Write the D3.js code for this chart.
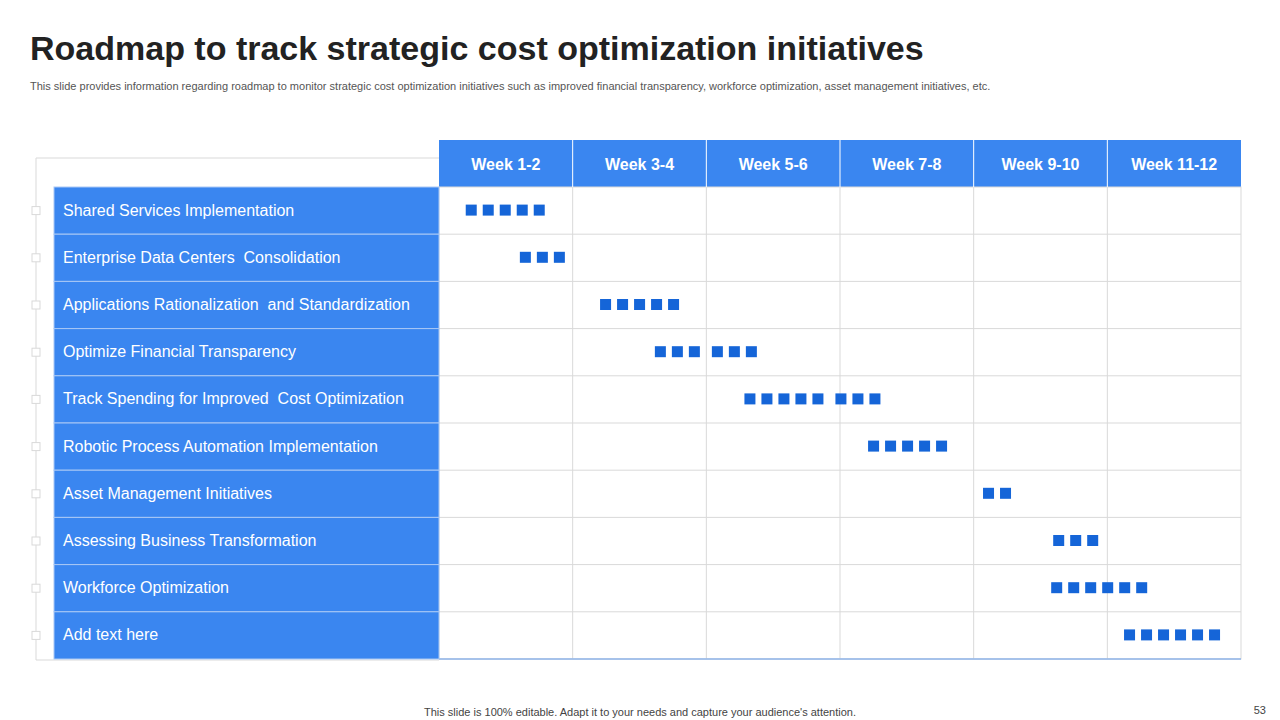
<!DOCTYPE html>
<html><head><meta charset="utf-8">
<script src="https://cdn.jsdelivr.net/npm/d3@7"></script>
<style>body{margin:0;background:#fff;font-family:Arial,"Liberation Sans",sans-serif}</style>
</head><body><svg id="c" width="1280" height="720"></svg>
<script>
const weeks = ["Week 1-2","Week 3-4","Week 5-6","Week 7-8","Week 9-10","Week 11-12"];
const tasks = ["Shared Services Implementation","Enterprise Data Centers  Consolidation","Applications Rationalization  and Standardization","Optimize Financial Transparency","Track Spending for Improved  Cost Optimization","Robotic Process Automation Implementation","Asset Management Initiatives","Assessing Business Transformation","Workforce Optimization","Add text here"];
const startWeek = [0.40,1.21,2.41,3.23,4.57,6.42,8.14,9.19,9.16,10.25];
const squareGroups = [[5],[3],[5],[3,3],[5,3],[5],[2],[3],[6],[6]];

const svg = d3.select("#c");
const blue="#3a86f0", dot="#1565d8", grid="#d9d9d9";
svg.append("text").attr("x",30).attr("y",60).attr("font-size",34).attr("font-weight","bold").attr("fill","#222").text("Roadmap to track strategic cost optimization initiatives");
svg.append("text").attr("x",30).attr("y",90).attr("font-size",11).attr("fill","#555").text("This slide provides information regarding roadmap to monitor strategic cost optimization initiatives such as improved financial transparency, workforce optimization, asset management initiatives, etc.");
svg.append("text").attr("x",640).attr("y",716).attr("text-anchor","middle").attr("font-size",11).attr("fill","#444").text("This slide is 100% editable. Adapt it to your needs and capture your audience's attention.");
svg.append("text").attr("x",1266).attr("y",714).attr("text-anchor","end").attr("font-size",11).attr("fill","#444").text("53");

const x = d3.scaleLinear().domain([0,12]).range([439,1241]);
const xc = d3.scaleBand().domain(weeks).range([439,1241]);
const y = d3.scaleBand().domain(tasks).range([187,659]);

// outer frame
svg.append("path").attr("d","M439,158H36V660H439").attr("fill","none").attr("stroke",grid).attr("stroke-width",1);
tasks.forEach(t=>svg.append("rect").attr("x",32).attr("y",y(t)+y.bandwidth()/2-4).attr("width",8).attr("height",8).attr("fill","#fff").attr("stroke",grid));

// header
svg.append("rect").attr("x",439).attr("y",140).attr("width",802).attr("height",47).attr("fill",blue);
weeks.forEach(w=>{
  svg.append("text").attr("x",xc(w)+xc.bandwidth()/2).attr("y",170).attr("text-anchor","middle").attr("font-size",16).attr("font-weight","bold").attr("fill","#fff").text(w);
});
// grid
svg.append("rect").attr("x",439).attr("y",187).attr("width",802).attr("height",472).attr("fill","#fff").attr("stroke",grid);
weeks.slice(1).forEach(w=>svg.append("line").attr("x1",xc(w)).attr("x2",xc(w)).attr("y1",140).attr("y2",659).attr("stroke",(0)?grid:"#fff").attr("stroke-width",1));
weeks.slice(1).forEach(w=>svg.append("line").attr("x1",xc(w)).attr("x2",xc(w)).attr("y1",187).attr("y2",659).attr("stroke",grid));
tasks.slice(1).forEach(t=>svg.append("line").attr("x1",439).attr("x2",1241).attr("y1",y(t)).attr("y2",y(t)).attr("stroke",grid));
svg.append("line").attr("x1",439).attr("x2",1241).attr("y1",659).attr("y2",659).attr("stroke","#8fb4ea").attr("stroke-width",1.5);

// labels
tasks.forEach(t=>{
  svg.append("rect").attr("x",54).attr("y",y(t)).attr("width",385).attr("height",y.bandwidth()).attr("fill",blue).attr("stroke","#a9c8f5").attr("stroke-width",1);
  svg.append("text").attr("x",63).attr("y",y(t)+y.bandwidth()/2+5).attr("font-size",16).attr("fill","#fff").attr("xml:space","preserve").text(t);
});

// squares
tasks.forEach((t,i)=>{
  let px = x(startWeek[i]);
  squareGroups[i].forEach((n,g)=>{
    if(g>0) px += 6;
    for(let k=0;k<n;k++){
      svg.append("rect").attr("x",px).attr("y",y(t)+y.bandwidth()/2-6).attr("width",11).attr("height",11).attr("fill",dot);
      px += 17;
    }
  });
});
</script></body></html>
